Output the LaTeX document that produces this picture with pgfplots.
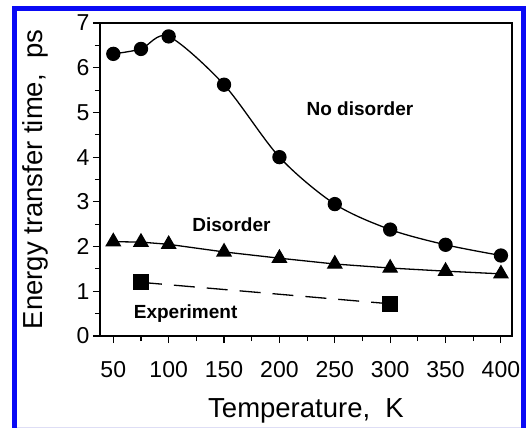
\documentclass[border=0pt]{standalone}
\usepackage{pgfplots}
\pgfplotsset{compat=1.18}
\usepackage{fontspec}
\setmainfont{Liberation Sans}

\definecolor{frameblue}{RGB}{10,10,245}
\definecolor{lavender}{RGB}{222,222,245}

% Energy transfer time vs. temperature
\pgfplotstableread{
T    tau
50   6.31
75   6.42
100  6.70
150  5.62
200  4.00
250  2.95
300  2.38
350  2.04
400  1.80
}\nodisorder

\pgfplotstableread{
T    tau
50   2.11
75   2.10
100  2.05
150  1.88
200  1.74
250  1.61
300  1.52
350  1.45
400  1.39
}\disorder

\pgfplotstableread{
T    tau
75   1.20
300  0.72
}\experiment

\begin{document}
\begin{tikzpicture}[x=1pt,y=1pt]
  % page frame
  \path (0,0) rectangle (532,428);
  \fill[frameblue] (12,0) rectangle (17,422);
  \fill[frameblue] (12,417) rectangle (526,422);
  \fill[frameblue] (521,0) rectangle (526,422);
  \draw[lavender, line width=1pt] (17,0.5) -- (521,0.5);

  \begin{axis}[
    at={(100pt,92pt)}, anchor=south west,
    scale only axis, width=412pt, height=313pt,
    xmin=38, xmax=410, ymin=0, ymax=7,
    xtick={50,100,...,400}, ytick={0,1,...,7},
    minor x tick num=1, minor y tick num=1,
    xtick pos=bottom, ytick pos=left,
    tick align=outside,
    major tick length=7pt, minor tick length=5pt,
    every tick/.style={black, line width=1.1pt},
    axis line style={line width=1.2pt},
    ticklabel style={font=\fontsize{23}{27}\selectfont},
    /pgf/number format/assume math mode=true,
    xticklabel style={yshift=-15pt},
    xlabel={Temperature,\ \ K},
    ylabel={Energy transfer time,\ \ ps},
    label style={font=\fontsize{27.5}{32}\selectfont},
    xlabel style={at={(axis description cs:0.5,0)}, anchor=base, yshift=-81pt},
    ylabel style={at={(axis description cs:0,0.5)}, anchor=base, yshift=57pt},
    clip=false,
  ]
    \addplot[black, line width=1.3pt, smooth, tension=0.5,
      mark=*, mark size=6.5pt, mark options={solid, fill=black}]
      table[x=T, y=tau] {\nodisorder};
    \addplot[black, line width=1.3pt,
      mark=triangle*, mark size=8pt, mark options={solid, fill=black}]
      table[x=T, y=tau] {\disorder};
    \addplot[black, line width=1.3pt, dash pattern=on 21pt off 12pt,
      mark=square*, mark size=7.5pt, mark options={solid, fill=black}]
      table[x=T, y=tau] {\experiment};

    \node[anchor=base, font=\fontsize{19}{23}\selectfont\bfseries]
      at (axis cs:272.7,4.94) {No disorder};
    \node[anchor=base, font=\fontsize{19}{23}\selectfont\bfseries]
      at (axis cs:156.7,2.33) {Disorder};
    \node[anchor=base, font=\fontsize{19}{23}\selectfont\bfseries]
      at (axis cs:115.3,0.40) {Experiment};
  \end{axis}
\end{tikzpicture}
\end{document}
